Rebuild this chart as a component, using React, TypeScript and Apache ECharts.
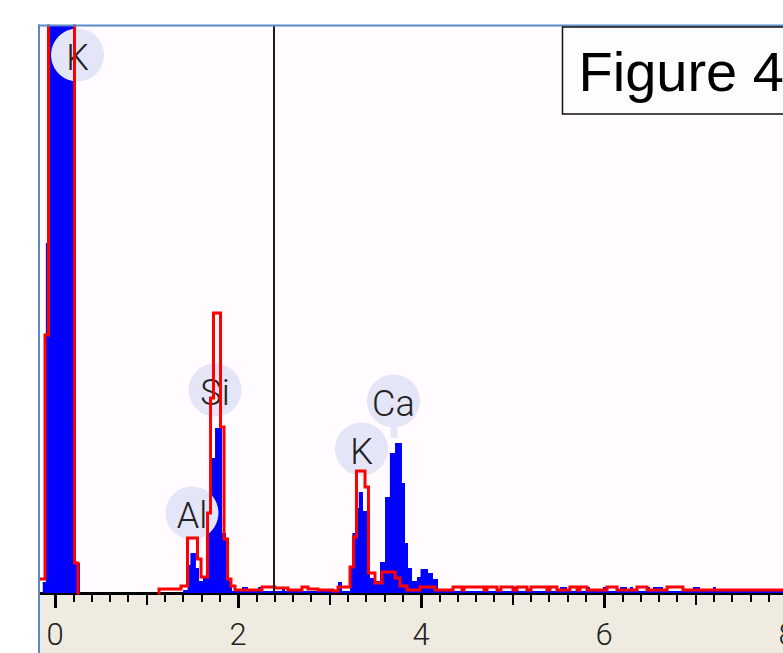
import React, { useEffect, useRef } from 'react';
import * as echarts from 'echarts';

// Energy axis (keV) and counts (arbitrary units)
const X_MIN = -0.164;
const X_MAX = 8.47;
const Y_MAX = 567;

// Blue (filled) spectrum: [keV at left edge of step, counts]
const BLUE_SPECTRUM: [number, number][] = [
  [-0.164, 0], [-0.134, 11], [-0.1, 350], [-0.07, 2000], [0.23, 30], [0.273, 0],
  [1.4, 3], [1.45, 28], [1.48, 40], [1.54, 25], [1.574, 12], [1.617, 15], [1.65, 60],
  [1.683, 85], [1.716, 135], [1.749, 165], [1.825, 60], [1.869, 30], [1.902, 12], [1.934, 2],
  [2.044, 6], [2.109, 2], [2.219, 6], [2.262, 2], [2.481, 6], [2.514, 2], [2.874, 4], [3.027, 2],
  [3.093, 11], [3.137, 2], [3.224, 25], [3.25, 60], [3.29, 85], [3.32, 101], [3.366, 82],
  [3.41, 35], [3.443, 15], [3.497, 12], [3.552, 31], [3.607, 96], [3.66, 140], [3.716, 150],
  [3.792, 110], [3.825, 50], [3.858, 25], [3.902, 12], [3.956, 16], [3.995, 24], [4.077, 20],
  [4.131, 14], [4.186, 2], [4.339, 6], [4.361, 2], [5.005, 6], [5.049, 2], [5.519, 6], [5.596, 2],
  [5.814, 6], [5.847, 2], [5.989, 6], [6.033, 2], [6.175, 6], [6.251, 2], [6.284, 6], [6.317, 2],
  [6.47, 6], [6.503, 2], [6.536, 6], [6.645, 2], [6.973, 6], [7.049, 2], [7.191, 6], [7.224, 2],
  [8.47, 2],
];

// Red (outline) spectrum: [keV at left edge of step, counts]
const RED_SPECTRUM: [number, number][] = [
  [-0.164, 14], [-0.109, 258], [-0.071, 2000], [0.213, 30], [0.251, -10], [1.137, 4], [1.377, 7],
  [1.448, 55], [1.557, 34], [1.596, 16], [1.667, 80], [1.7, 195], [1.732, 280], [1.809, 166],
  [1.847, 54], [1.885, 14], [1.923, 7], [1.967, 3], [2.262, 6], [2.404, 5], [2.546, 3], [2.699, 6],
  [2.765, 4], [2.874, 3], [3.038, 2], [3.093, 6], [3.224, 26], [3.262, 56], [3.295, 122],
  [3.388, 106], [3.426, 20], [3.497, 10], [3.574, 21], [3.716, 15], [3.77, 7], [3.847, 3],
  [3.989, 6], [4.153, 3], [4.35, 6], [4.448, 3], [4.47, 6], [4.689, 3], [4.721, 6], [4.831, 3],
  [4.874, 6], [5.005, 3], [5.049, 6], [5.158, 3], [5.202, 6], [5.377, 3], [5.41, 6], [5.486, 3],
  [5.628, 6], [5.705, 3], [5.738, 6], [5.814, 3], [6.033, 6], [6.142, 3], [6.361, 6], [6.47, 3],
  [6.689, 6], [6.863, 3], [8.47, 3],
];

// Element labels
const LABEL_NAMES = ['K', 'Al', 'Si', 'K', 'Ca'];
const LABEL_KEV = [0.246, 1.497, 1.749, 3.35, 3.699];
const LABEL_COUNTS = [538, 80, 203, 144, 192];
const CA_STEM: [number, number] = [3.705, 164];

// Cursor marker
const CURSOR_KEV = 2.388;

// Axis ticks
const TICK_LABELS = [0, 2, 4, 6, 8];
const MAJOR_TICKS = [0, 2, 4, 6, 8];
const MEDIUM_TICKS = [1, 3, 5, 7];
const MINOR_TICKS = [
  0.2, 0.4, 0.6, 0.8, 1.2, 1.4, 1.6, 1.8, 2.2, 2.4, 2.6, 2.8, 3.2, 3.4, 3.6, 3.8,
  4.2, 4.4, 4.6, 4.8, 5.2, 5.4, 5.6, 5.8, 6.2, 6.4, 6.6, 6.8, 7.2, 7.4, 7.6, 7.8, 8.2, 8.4,
];

const LABEL_FONT = 'Roboto, "Liberation Sans", Arial, sans-serif';

export default function App() {
  const ref = useRef<HTMLDivElement>(null);
  useEffect(() => {
    if (!ref.current) return;
    const chart = echarts.init(ref.current, undefined, { renderer: 'svg' });
    const baseX = {
      type: 'value',
      min: X_MIN,
      max: X_MAX,
      gridIndex: 0,
      position: 'bottom',
      splitLine: { show: false },
    };
    const option: any = {
      animation: false,
      backgroundColor: '#ffffff',
      grid: {
        left: 40,
        top: 26,
        right: 0,
        bottom: 60,
        show: true,
        backgroundColor: '#FFFBFF',
        borderWidth: 0,
      },
      xAxis: [
        {
          ...baseX,
          axisLine: { show: true, onZero: false, lineStyle: { color: '#000', width: 3 } },
          axisTick: { show: true, customValues: MAJOR_TICKS, length: 15, lineStyle: { color: '#000', width: 3 } },
          axisLabel: {
            show: true,
            customValues: TICK_LABELS,
            margin: 26,
            fontSize: 31,
            lineHeight: 31,
            fontFamily: LABEL_FONT,
            fontWeight: 300,
            color: '#222',
            formatter: (v: number) => String(v),
          },
        },
        {
          ...baseX,
          axisLine: { show: false },
          axisTick: { show: true, customValues: MEDIUM_TICKS, length: 12, lineStyle: { color: '#000', width: 2 } },
          axisLabel: { show: false },
        },
        {
          ...baseX,
          axisLine: { show: false },
          axisTick: { show: true, customValues: MINOR_TICKS, length: 9, lineStyle: { color: '#000', width: 2 } },
          axisLabel: { show: false },
        },
      ],
      yAxis: {
        type: 'value',
        min: 0,
        max: Y_MAX,
        show: false,
        splitLine: { show: false },
      },
      series: [
        {
          name: 'blue',
          type: 'line',
          z: 2,
          step: 'end',
          data: BLUE_SPECTRUM,
          symbol: 'none',
          showSymbol: false,
          clip: true,
          silent: true,
          lineStyle: { width: 0, color: '#0000FF' },
          itemStyle: { color: '#0000FF' },
          areaStyle: { color: '#0000FF', opacity: 1 },
          emphasis: { disabled: true },
        },
        {
          name: 'labels',
          type: 'scatter',
          z: 3,
          silent: true,
          symbol: 'circle',
          symbolSize: 53,
          itemStyle: { color: '#E4E6F8', opacity: 1 },
          emphasis: { disabled: true },
          label: {
            show: true,
            position: 'inside',
            formatter: '{b}',
            fontSize: 36,
            fontFamily: LABEL_FONT,
            fontWeight: 300,
            color: '#222',
            offset: [0, 3],
          },
          data: [
            {
              name: '',
              value: CA_STEM,
              symbol: 'rect',
              symbolSize: [7, 18],
              label: { show: false },
            },
            ...LABEL_NAMES.map((n, i) => ({ name: n, value: [LABEL_KEV[i], LABEL_COUNTS[i]] })),
          ],
        },
        {
          name: 'red',
          type: 'line',
          z: 4,
          step: 'end',
          data: RED_SPECTRUM,
          symbol: 'none',
          showSymbol: false,
          clip: true,
          silent: true,
          lineStyle: { color: '#FF0000', width: 3, join: 'miter' },
          itemStyle: { color: '#FF0000' },
          emphasis: { disabled: true },
          markLine: {
            silent: true,
            symbol: 'none',
            label: { show: false },
            lineStyle: { color: '#1c1c1c', width: 2, type: 'solid' },
            emphasis: { disabled: true },
            data: [{ xAxis: CURSOR_KEV }],
          },
        },
      ],
      graphic: [
        {
          type: 'rect',
          z: -10,
          silent: true,
          shape: { x: 40, y: 594.5, width: 800, height: 60 },
          style: { fill: '#EFEBE0' },
        },
        {
          type: 'line',
          z: 100,
          silent: true,
          shape: { x1: 39, y1: 24.5, x2: 39, y2: 653 },
          style: { stroke: '#5B8AC6', lineWidth: 2 },
        },
        {
          type: 'line',
          z: 100,
          silent: true,
          shape: { x1: 38, y1: 25.5, x2: 830, y2: 25.5 },
          style: { stroke: '#5B8AC6', lineWidth: 2 },
        },
        {
          type: 'rect',
          z: 100,
          silent: true,
          shape: { x: 562.5, y: 27, width: 300, height: 87 },
          style: { fill: '#FFFCFF', stroke: '#111', lineWidth: 1.5 },
        },
        {
          type: 'text',
          z: 101,
          silent: true,
          x: 578.5,
          y: 71,
          style: {
            text: 'Figure 4',
            font: 'normal 56px "Liberation Sans", Arial, sans-serif',
            fill: '#000',
            align: 'left',
            verticalAlign: 'middle',
          },
        },
      ],
    };
    chart.setOption(option);
    return () => chart.dispose();
  }, []);
  return (
    <div
      style={{
        position: 'fixed',
        left: 0,
        top: 0,
        width: 783,
        height: 653,
        overflow: 'hidden',
        background: '#fff',
      }}
    >
      <div ref={ref} style={{ width: 830, height: 653 }} />
    </div>
  );
}
